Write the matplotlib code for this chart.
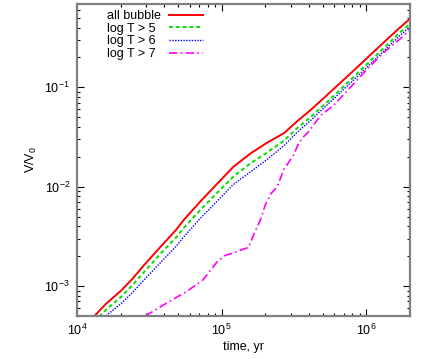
import matplotlib
matplotlib.use("Agg")
import matplotlib.pyplot as plt
from matplotlib.lines import Line2D
from matplotlib.ticker import LogLocator

plt.rcParams["font.family"] = ["Liberation Sans", "DejaVu Sans"]
plt.rcParams["font.size"] = 9
plt.rcParams["mathtext.default"] = "regular"

# all bubble
t_all = [1.32e4, 1.58e4, 2.0e4, 2.4e4, 2.9e4, 3.8e4, 4.8e4, 5.5e4, 7.1e4, 9.3e4,
         1.2e5, 1.58e5, 2.04e5, 2.7e5, 3.3e5, 4.1e5, 4.8e5, 5.9e5, 8.1e5,
         1.02e6, 1.38e6, 1.7e6, 2.0e6]
v_all = [5.0e-4, 6.6e-4, 8.9e-4, 1.17e-3, 1.62e-3, 2.51e-3, 3.63e-3, 4.68e-3,
         7.08e-3, 1.07e-2, 1.58e-2, 2.16e-2, 2.75e-2, 3.47e-2, 4.52e-2, 5.89e-2,
         7.24e-2, 9.55e-2, 0.146, 0.20, 0.302, 0.398, 0.49]
# log T > 5
v_t5 = [4.4e-4, 5.75e-4, 7.7e-4, 1.01e-3, 1.38e-3, 2.14e-3, 3.05e-3, 3.89e-3,
        5.82e-3, 8.7e-3, 1.26e-2, 1.72e-2, 2.19e-2, 2.92e-2, 3.85e-2, 5.0e-2,
        6.17e-2, 8.13e-2, 0.126, 0.174, 0.266, 0.355, 0.437]
# log T > 6
v_t6 = [3.8e-4, 5.0e-4, 6.6e-4, 8.5e-4, 1.15e-3, 1.74e-3, 2.48e-3, 3.16e-3,
        4.79e-3, 7.16e-3, 1.05e-2, 1.41e-2, 1.86e-2, 2.6e-2, 3.5e-2, 4.62e-2,
        5.75e-2, 7.6e-2, 0.1175, 0.162, 0.248, 0.331, 0.407]
# log T > 7
t_t7 = [2.97e4, 4.13e4, 5.77e4, 7.45e4, 9.27e4, 1.057e5, 1.21e5, 1.34e5, 1.53e5,
        1.66e5, 1.85e5, 2.0e5, 2.2e5, 2.42e5, 2.68e5, 3.14e5, 3.4e5, 3.68e5,
        3.99e5, 4.81e5, 5.94e5, 7.74e5, 1.01e6, 1.32e6, 1.72e6, 2.01e6]
v_t7 = [5.0e-4, 6.7e-4, 8.9e-4, 1.16e-3, 1.75e-3, 2.04e-3, 2.16e-3, 2.29e-3,
        2.45e-3, 3.28e-3, 4.63e-3, 6.56e-3, 8.6e-3, 1.0e-2, 1.48e-2, 2.09e-2,
        2.74e-2, 3.19e-2, 3.58e-2, 5.2e-2, 6.6e-2, 0.10, 0.152, 0.225, 0.31,
        0.385]

labels = ["all bubble", "log T > 5", "log T > 6", "log T > 7"]
colors = ["#ff0000", "#00e000", "#0000ff", "#ff00ff"]
widths = [1.4, 1.4, 1.0, 1.2]
styles = ["-", (0, (2, 1.5)), (0, (1, 1)), (0, (5, 2, 1, 2))]

fig = plt.figure(figsize=(4.36, 3.59), dpi=100)
ax = fig.add_axes([77 / 436, 1 - 316 / 359, 333 / 436, 312 / 359])

series = [(t_all, v_all), (t_all, v_t5), (t_all, v_t6), (t_t7, v_t7)]
for (t, v), c, w, s in zip(series, colors, widths, styles):
    ax.plot(t, v, color=c, lw=w, ls=s)

ax.set_xscale("log")
ax.set_yscale("log")
ax.set_xlim(1e4, 2e6)
ax.set_ylim(5e-4, 0.69)
ax.xaxis.set_minor_locator(LogLocator(subs=range(2, 10)))
ax.yaxis.set_minor_locator(LogLocator(subs=range(2, 10)))

for sp in ax.spines.values():
    sp.set_color("#808080")
    sp.set_linewidth(1.6)
ax.tick_params(which="both", direction="in", top=True, right=True, width=0.8)
ax.tick_params(which="major", length=5, pad=5)
ax.tick_params(which="minor", length=2.5)

ax.set_xlabel("time, yr", labelpad=2)
ax.set_ylabel("V/V$_0$", labelpad=4)

# gnuplot style key: text left, sample line right
for i, (lab, c, w, s) in enumerate(zip(labels, colors, widths, styles)):
    yk = 1 - (14.8 + 12.6 * i) / 359
    fig.text(107 / 436, yk - 4.3 / 359, lab, ha="left", va="baseline")
    fig.add_artist(Line2D([169 / 436, 203 / 436], [yk, yk],
                          transform=fig.transFigure, color=c, lw=w, ls=s))

fig.savefig("out.png", dpi=100)
